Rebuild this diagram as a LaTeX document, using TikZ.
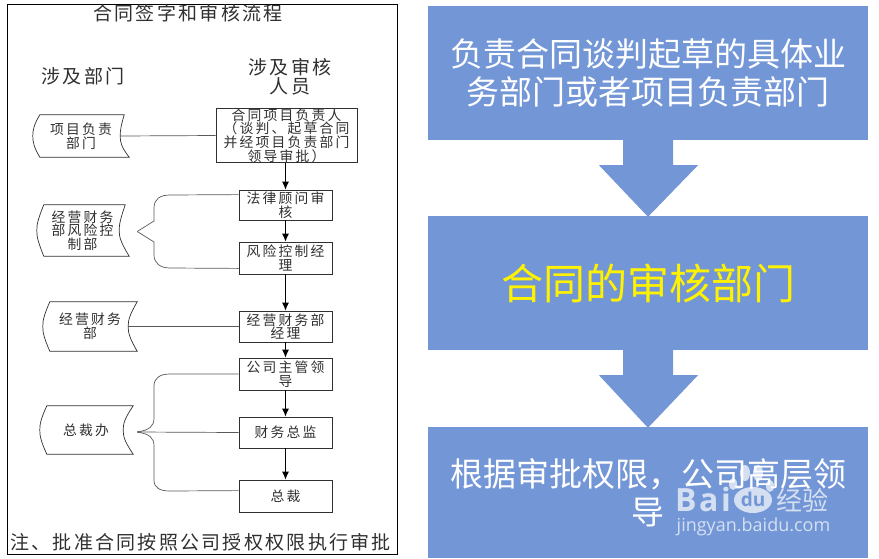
\documentclass[tikz,border=0pt]{standalone}
\usepackage{fontspec}
\usepackage{tikz}
\usetikzlibrary{calc}
\usetikzlibrary{arrows.meta}
\setmainfont{Noto Sans CJK SC}
\newfontfamily\cjksmall[LetterSpace=16]{Noto Sans CJK SC}
\newfontfamily\cjkwide[LetterSpace=12]{Noto Sans CJK SC}
\newfontfamily\wmfont{Open Sans}
\newfontfamily\wmbold[LetterSpace=8]{Open Sans}

\definecolor{panelblue}{HTML}{7396D6}
\definecolor{flowink}{HTML}{303030}

\tikzset{
    flowbox/.style={draw=flowink, line width=0.8pt, inner sep=0pt, align=center, minimum width=93pt,
        font=\cjksmall\fontsize{13.8}{13.6}\selectfont, text=flowink},
    deptnode/.style={inner sep=0pt, align=center, font=\cjksmall\fontsize{13.8}{13.6}\selectfont, text=flowink},
    headnode/.style={inner sep=0pt, align=center, font=\cjkwide\fontsize{19}{16}\selectfont, text=flowink},
    panel/.style={fill=panelblue, inner sep=0pt, align=center, minimum width=440pt, minimum height=134pt,
        text=white, font=\fontsize{33}{38}\selectfont},
    flowarrow/.style={-{Latex[length=8pt,width=7pt]}, line width=0.9pt, black},
    deptline/.style={line width=0.7pt, flowink},
    linkline/.style={line width=0.7pt, black!65},
    wmark/.style={inner sep=0pt, text=white, text opacity=0.7}
}

% outline of a department shape, 4.5 left of its text node; (nameL)/(nameR) are the waist points
\newcommand{\deptshape}[3]{
    \coordinate (#1L) at ($(#1.west)+(-4.5,0)$);
    \coordinate (#1R) at ($(#1.east)+(-4.5,0)$);
    \draw[deptline] ($(#1.north west)+(2.5,0)$)
        .. controls ($(#1L)+(1,-11)$) and ($(#1L)+(0,-6)$) .. (#1L)
        .. controls ($(#1L)+(0,6)$) and ($(#1L)+(1,11)$) .. ($(#1.south west)+(2.5,0)$)
        -- ($(#1.south east)+(#3-4.5,0)$)
        .. controls ($(#1R)+(1,11)$) and ($(#1R)+(0,6)$) .. (#1R)
        .. controls ($(#1R)+(0,-6)$) and ($(#1R)+(1,-11)$) .. ($(#1.north east)+(#2-4.5,0)$)
        -- cycle;
}
% block arrow between two panels
\newcommand{\panelarrow}[2]{
    \fill[panelblue] ($(#1.south)+(-25,0)$) -- ($(#1.south)+(-25,25)$) -- ($(#1.south)+(-49,25)$)
        -- ($(#2.north)+(0,1)$) -- ($(#1.south)+(50,25)$) -- ($(#1.south)+(25,25)$) -- ($(#1.south)+(25,0)$) -- cycle;
}

\begin{document}
\begin{tikzpicture}[x=1pt, y=-1pt]
\useasboundingbox (0,0) rectangle (879,558);
\fill[white] (0,0) rectangle (879,558);

% --- Left: scanned flow chart ---
\draw[line width=0.9pt, black] (7,4) rectangle (397,554);

% headings
\node[headnode] (title) at (188,13) {合同签字和审核流程};
\node[headnode] (depthead) at (83,76) {涉及部门};
\node[headnode] (staffhead) at (290,77) {涉及审核\\[1pt]人员};

% staff boxes
\node[flowbox, minimum width=141pt, minimum height=53pt] (leader) at (286.5,135.5) {合同项目负责人\\（谈判、起草合同\\并经项目负责部门\\领导审批）};
\node[flowbox, minimum height=30pt] (lawyer) at (285.5,205) {法律顾问审\\核};
\node[flowbox, minimum height=32pt] (riskmgr) at (285.5,258) {风险控制经\\理};
\node[flowbox, minimum height=31pt] (finmgr) at (285.5,326.5) {经营财务部\\经理};
\node[flowbox, minimum height=32pt] (chief) at (285.5,374) {公司主管领\\导};
\node[flowbox, minimum height=31pt] (cfo) at (285.5,432.5) {财务总监};
\node[flowbox, minimum height=32pt] (ceo) at (285.5,496) {总裁};

% department shapes
\node[deptnode, minimum width=87pt, minimum height=42pt] (deptproj) at (81,136) {项目负责\\部门};
\node[deptnode, minimum width=82pt, minimum height=51pt] (deptrisk) at (82.5,230.5) {经营财务\\部风险控\\制部};
\node[deptnode, minimum width=85pt, minimum height=49pt] (deptfin) at (90,326.5) {经营财务\\部};
\node[deptnode, minimum width=83pt, minimum height=48pt] (deptpres) at (86,430) {总裁办};
\deptshape{deptproj}{4}{9}
\deptshape{deptrisk}{6}{10}
\deptshape{deptfin}{9}{9}
\deptshape{deptpres}{10}{10}

% flow
\draw[flowarrow] (lawyer.north |- leader.south) -- (lawyer.north);
\draw[flowarrow] (lawyer) -- (riskmgr);
\draw[flowarrow] (riskmgr) -- (finmgr);
\draw[flowarrow] (finmgr) -- (chief);
\draw[flowarrow] (chief) -- (cfo);
\draw[flowarrow] (cfo) -- (ceo);

% links to departments
\draw[linkline] (deptprojR) -- (leader.west);
\draw[linkline] (deptfinR) -- (finmgr.west);

\coordinate (risktip) at ($(deptriskR)+(18,1)$);
\draw[linkline] (risktip) -- (154,221) -- (154,208) .. controls (154,199) and (160,195) .. (170,195) -- ($(lawyer.north west)+(0,5)$);
\draw[linkline] (risktip) -- (154,242) -- (154,255) .. controls (154,263) and (160,268) .. (170,268) -- ($(riskmgr.south west)+(0,-6)$);

\coordinate (prestip) at ($(deptpresR)+(14,2)$);
\draw[linkline] (prestip) -- (cfo.west);
\draw[linkline] (prestip) .. controls (150,430) and (154,426) .. (154,418) -- (154,386) .. controls (154,378) and (160,374) .. (170,374) -- (chief.west);
\draw[linkline] (prestip) .. controls (150,434) and (154,438) .. (154,446) -- (154,480) .. controls (154,488) and (160,491) .. (170,491) -- ($(ceo.north west)+(0,11)$);

% note
\node[headnode, anchor=west] (note) at (10,542) {注、批准合同按照公司授权权限执行审批};

% --- Right: three panels ---
\node[panel] (draftpanel) at (648,73) {负责合同谈判起草的具体业\\务部门或者项目负责部门};
\node[panel, text=yellow, font=\fontsize{42}{46}\selectfont] (auditpanel) at (648,283) {合同的审核部门};
\node[panel, minimum height=131pt] (approvepanel) at (648,492.5) {根据审批权限，公司高层领\\导};
\panelarrow{draftpanel}{auditpanel}
\panelarrow{auditpanel}{approvepanel}

% --- Watermark ---
\fill[white, opacity=0.7] (745,473) ellipse (5pt and 8pt) (758,473) ellipse (5pt and 8pt)
    (733,484) ellipse (4pt and 6pt) (770,486) ellipse (4pt and 6pt);
\fill[white, opacity=0.7] (753,500) ellipse (19pt and 13pt);
\node[wmark, font=\wmbold\bfseries\fontsize{32}{32}\selectfont] (wmbai) at (703,499) {Bai};
\node[wmark, text=panelblue, text opacity=1, font=\wmfont\bfseries\fontsize{19}{19}\selectfont] (wmdu) at (753,499) {du};
\node[wmark, font=\fontsize{26}{26}\selectfont] (wmjy) at (802,500) {经验};
\node[wmark, font=\wmfont\fontsize{18}{18}\selectfont] (wmurl) at (753.5,527) {jingyan.baidu.com};

\end{tikzpicture}
\end{document}
